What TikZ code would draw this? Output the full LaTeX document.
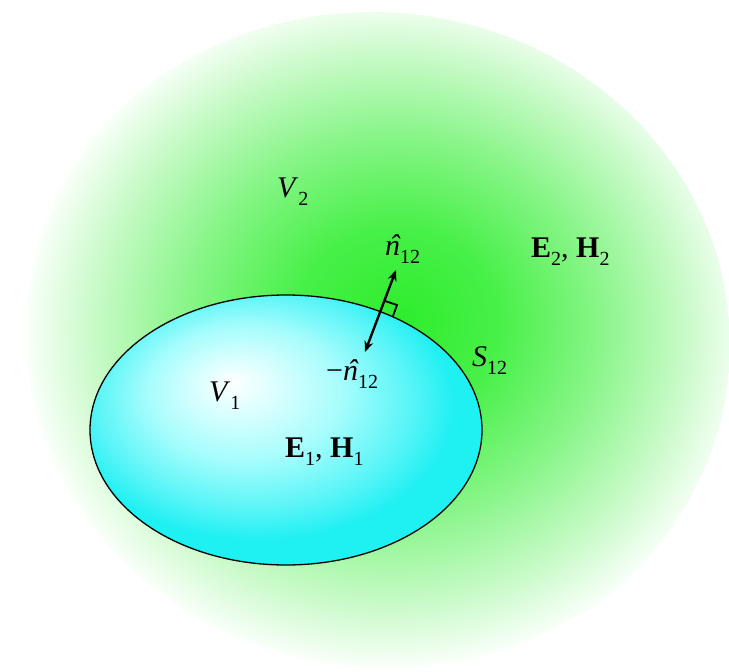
\documentclass[tikz,border=0pt]{standalone}
\usepackage{fontspec}
\setmainfont{Liberation Serif}
\usetikzlibrary{arrows.meta}
\pgfdeclareradialshading{greenfade}{\pgfpoint{2bp}{2bp}}{rgb(0bp)=(0.18,0.93,0.18); rgb(7bp)=(0.28,0.94,0.28); rgb(14bp)=(0.52,0.96,0.52); rgb(20.5bp)=(0.78,0.98,0.78); rgb(25bp)=(0.97,1,0.97); rgb(25.3bp)=(1,1,1); rgb(50bp)=(1,1,1)}
\pgfdeclareradialshading{cyanfade}{\pgfpoint{-7bp}{9bp}}{rgb(0bp)=(1,1,1); rgb(3.5bp)=(0.9,1,1); rgb(12.5bp)=(0.65,0.99,0.99); rgb(20bp)=(0.35,0.96,0.97); rgb(25bp)=(0.12,0.94,0.95); rgb(50bp)=(0.12,0.94,0.95)}
\newcommand\lsub[1]{\raisebox{-0.28em}{\fontsize{20}{20}\selectfont #1}}
\newcommand\nhat{\makebox[0pt][l]{\hspace{0.14em}\textit{ˆ}}\textit{n}}
\tikzset{lbl/.style={inner sep=0pt, anchor=base west, font=\fontsize{30}{30}\selectfont}}
\begin{document}
\begin{tikzpicture}[x=1pt,y=-1pt]
\useasboundingbox (0,0) rectangle (729,672);
\fill[white] (0,0) rectangle (729,672);
\shade[shading=greenfade] (372,345) ellipse [x radius=358, y radius=333];
\shade[shading=cyanfade, draw=black, line width=1.3pt] (286,430) ellipse [x radius=196, y radius=135];
% labels
\node[lbl] (v2) at (277,197) {\textit{V}\lsub{2}};
\node[lbl] (n12) at (385,255) {\nhat\lsub{12}};
\node[lbl] (e2h2) at (531,257) {\textbf{E}\lsub{2}, \textbf{H}\lsub{2}};
\node[lbl] (s12) at (472,366) {\textit{S}\lsub{12}};
\node[lbl] (mn12) at (326,380) {−\nhat\lsub{12}};
\node[lbl] (v1) at (209,401) {\textit{V}\lsub{1}};
\node[lbl] (e1h1) at (285,457) {\textbf{E}\lsub{1}, \textbf{H}\lsub{1}};
% normal arrow
\coordinate (nt) at (396,270);
\coordinate (nb) at (365,352);
\draw[line width=2.4pt, {Stealth[length=11pt,width=9pt]}-{Stealth[length=11pt,width=9pt]}] (nb) -- (nt);
\coordinate (r0) at (385,301);
\coordinate (r1) at (397,305);
\coordinate (r2) at (393,316);
\draw[line width=1.8pt] (r0) -- (r1) -- (r2);
\end{tikzpicture}
\end{document}
